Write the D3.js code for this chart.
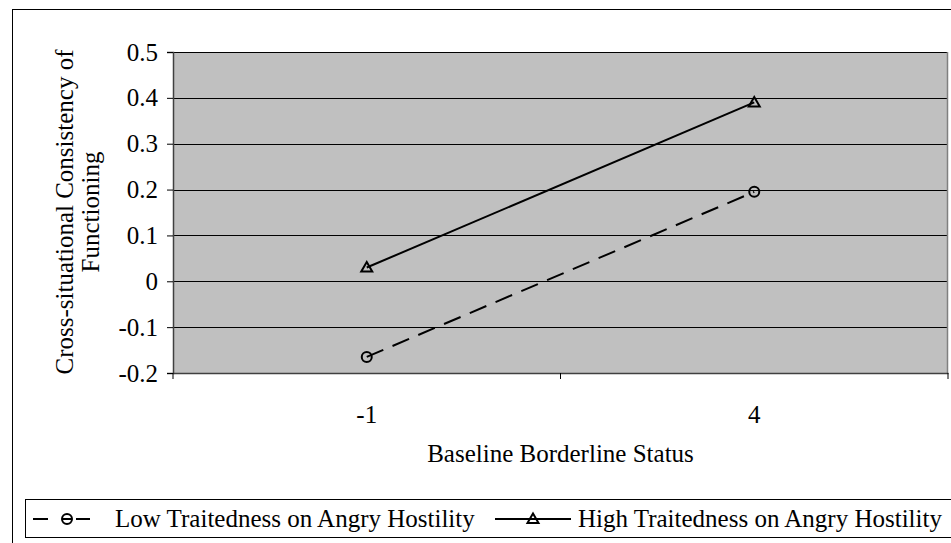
<!DOCTYPE html>
<html>
<head>
<meta charset="utf-8">
<script src="https://cdn.jsdelivr.net/npm/d3@7"></script>
<style>
body { margin: 0; background: #fff; }
text { font-family: "Liberation Serif", "Times New Roman", serif; fill: #000; }
</style>
</head>
<body>
<script>
const categories = ["-1", "4"];
const lowSeries = [-0.165, 0.195];
const highSeries = [0.03, 0.39];
const yTicks = [-0.2, -0.1, 0, 0.1, 0.2, 0.3, 0.4, 0.5];
const seriesNames = ["Low Traitedness on Angry Hostility", "High Traitedness on Angry Hostility"];

const width = 951, height = 543;
const fs = 25;
const svg = d3.select("body").append("svg")
    .attr("width", width).attr("height", height);

// outer frame
svg.append("rect").attr("x", 12.5).attr("y", 9.5)
    .attr("width", 945).attr("height", 540)
    .attr("fill", "#fff").attr("stroke", "#000").attr("stroke-width", 1);

const plot = {left: 173, right: 948, top: 52, bottom: 373};

const x = d3.scaleBand().domain(categories).range([plot.left, plot.right]);
const y = d3.scaleLinear().domain([-0.2, 0.5]).range([plot.bottom, plot.top]);

svg.append("rect")
    .attr("x", plot.left).attr("y", plot.top)
    .attr("width", plot.right - plot.left).attr("height", plot.bottom - plot.top)
    .attr("fill", "#c0c0c0");

// gridlines
svg.append("g").selectAll("line").data(yTicks.filter(d => d > -0.2)).join("line")
    .attr("x1", plot.left).attr("x2", plot.right)
    .attr("y1", d => Math.round(y(d)) + 0.5).attr("y2", d => Math.round(y(d)) + 0.5)
    .attr("stroke", "#000").attr("stroke-width", 1);

// right border
svg.append("line").attr("x1", plot.right - 0.5).attr("x2", plot.right - 0.5)
    .attr("y1", plot.top).attr("y2", plot.bottom)
    .attr("stroke", "#808080").attr("stroke-width", 1.5);

// y axis
const yAxis = svg.append("g").attr("transform", `translate(${plot.left},0)`)
    .call(d3.axisLeft(y).tickValues(yTicks).tickSize(6).tickPadding(9)
        .tickFormat(d => d === 0 ? "0" : d3.format(".1f")(d).replace("\u2212", "-")));
yAxis.select(".domain").attr("stroke", "#404040").attr("stroke-width", 1.5);
yAxis.selectAll(".tick line").attr("stroke", "#000");
yAxis.selectAll("text").attr("font-size", fs).attr("font-family", "Liberation Serif");

// x axis
const xAxis = svg.append("g").attr("transform", `translate(0,${plot.bottom})`)
    .call(d3.axisBottom(x).tickSize(0).tickPadding(32));
xAxis.select(".domain").attr("stroke", "#404040").attr("stroke-width", 1.5);
xAxis.selectAll("text").attr("font-size", fs).attr("font-family", "Liberation Serif");
const xEdges = [plot.left, plot.left + x.bandwidth(), plot.right];
xAxis.selectAll(".edge").data(xEdges).join("line")
    .attr("x1", d => d).attr("x2", d => d).attr("y1", 0).attr("y2", 6)
    .attr("stroke", "#000");

// titles
svg.append("text").attr("x", (plot.left + plot.right) / 2).attr("y", 462)
    .attr("text-anchor", "middle").attr("font-size", fs).text("Baseline Borderline Status");
const yt = svg.append("text").attr("transform", "translate(73,212) rotate(-90)")
    .attr("text-anchor", "middle").attr("font-size", fs);
yt.append("tspan").attr("x", 0).attr("dy", 0).text("Cross-situational Consistency of");
yt.append("tspan").attr("x", 0).attr("dy", 26).text("Functioning");

const cx = d => x(d) + x.bandwidth() / 2;
const line = d3.line().x((d, i) => cx(categories[i])).y(d => y(d));

function triangle(sel) {
  sel.attr("d", "M0,-5.5 L5.5,4 L-5.5,4 Z").attr("fill", "none")
     .attr("stroke", "#000").attr("stroke-width", 2);
}
function circle(sel) {
  sel.attr("r", 5).attr("fill", "none").attr("stroke", "#000").attr("stroke-width", 2);
}

svg.append("path").datum(lowSeries).attr("d", line)
    .attr("fill", "none").attr("stroke", "#000").attr("stroke-width", 2)
    .attr("stroke-dasharray", "18,10");
svg.append("path").datum(highSeries).attr("d", line)
    .attr("fill", "none").attr("stroke", "#000").attr("stroke-width", 2);

svg.selectAll(".lowpt").data(lowSeries).join("circle")
    .attr("cx", (d, i) => cx(categories[i])).attr("cy", d => y(d)).call(circle);
svg.selectAll(".highpt").data(highSeries).join("path")
    .attr("transform", (d, i) => `translate(${cx(categories[i])},${y(d)})`).call(triangle);

// legend
const lg = svg.append("g");
lg.append("rect").attr("x", 25.5).attr("y", 499.5).attr("width", 930).attr("height", 38)
    .attr("fill", "#fff").attr("stroke", "#000");
const ly = 519;
[[33, 48], [62, 72], [76, 90]].forEach(s => {
  lg.append("line").attr("x1", s[0]).attr("x2", s[1]).attr("y1", ly).attr("y2", ly)
      .attr("stroke", "#000").attr("stroke-width", 2);
});
lg.append("circle").attr("cx", 67).attr("cy", ly).call(circle);
lg.append("text").attr("x", 115).attr("y", ly + 8).attr("font-size", fs).text(seriesNames[0]);
lg.append("line").attr("x1", 495).attr("x2", 571).attr("y1", ly).attr("y2", ly)
    .attr("stroke", "#000").attr("stroke-width", 2);
lg.append("path").attr("transform", `translate(533,${ly})`).call(triangle);
lg.append("text").attr("x", 578).attr("y", ly + 8).attr("font-size", fs).text(seriesNames[1]);
</script>
</body>
</html>
